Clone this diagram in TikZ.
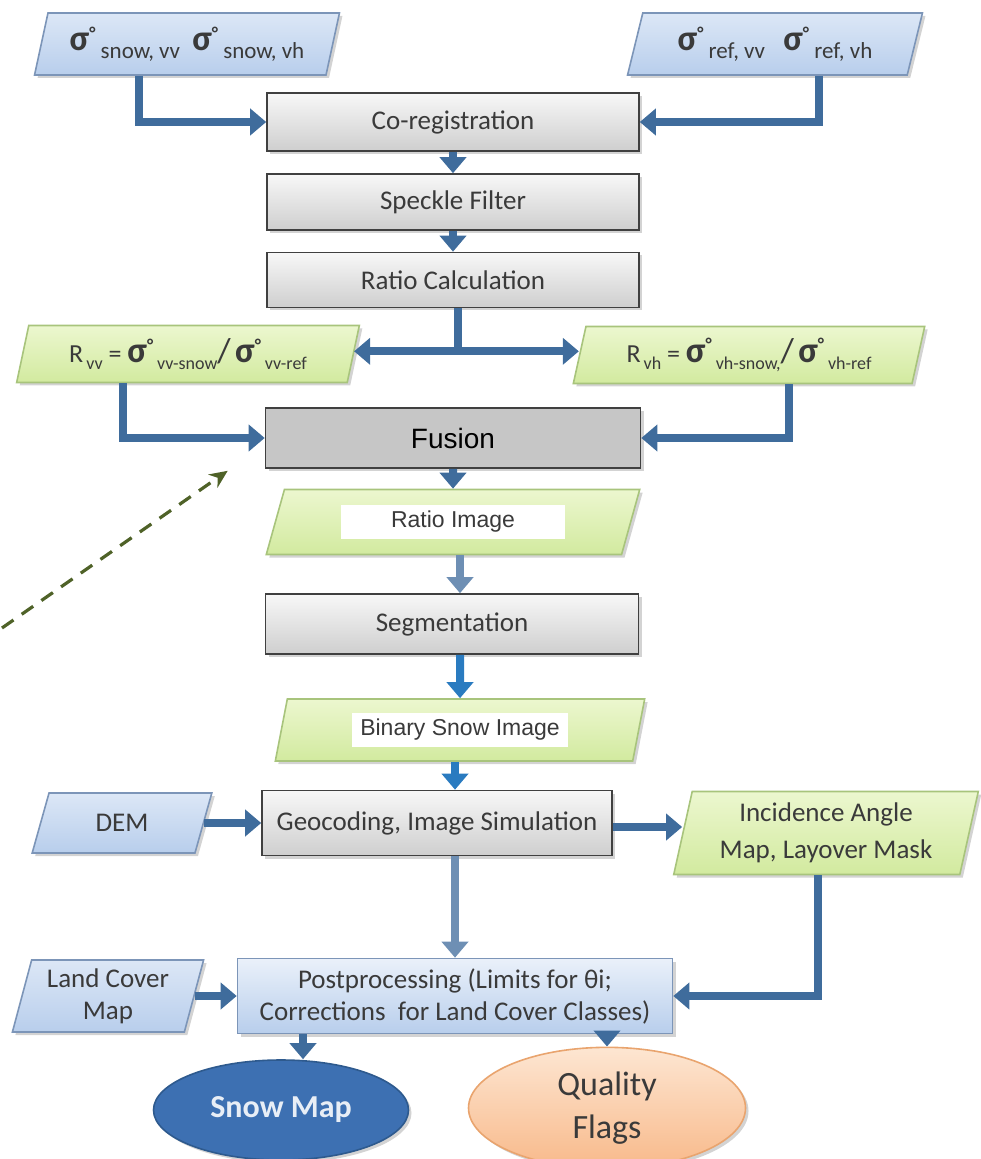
\documentclass[tikz,border=0pt]{standalone}
\usepackage{fontspec}
\setmainfont{Carlito}
\newfontfamily\arialfont{Liberation Sans}
\usetikzlibrary{positioning,shapes.geometric,arrows.meta,calc,shadows}

\definecolor{arrowblue}{HTML}{3F6C9C}
\definecolor{paleblue}{HTML}{6E8FB4}
\definecolor{brightblue}{HTML}{2A7BC0}
\definecolor{boxedge}{HTML}{404040}
\definecolor{textgray}{HTML}{3A3A3A}
\definecolor{bluefillA}{HTML}{DCE7F6}
\definecolor{bluefillB}{HTML}{B8CEEC}
\definecolor{blueedge}{HTML}{7C95B8}
\definecolor{greenfillA}{HTML}{ECF7CF}
\definecolor{greenfillB}{HTML}{D2EA9F}
\definecolor{greenedge}{HTML}{A8C47C}
\definecolor{snowblue}{HTML}{3D70B2}
\definecolor{snowedge}{HTML}{2E5A8E}
\definecolor{peachA}{HTML}{FDE6D2}
\definecolor{peachB}{HTML}{F8B98A}
\definecolor{peachedge}{HTML}{E9A46E}
\definecolor{olive}{HTML}{4F6228}

% sigma nought with subscript
\newcommand{\sig}[2][\small]{{\fontsize{18}{20}\selectfont\bfseries σ}\raisebox{.9ex}{\small\bfseries°}\raisebox{-.6ex}{#1 #2}}

\tikzset{
  shade/.style={drop shadow={opacity=.35, shadow xshift=1.5pt, shadow yshift=-1.5pt}},
  process/.style={rectangle, draw=boxedge, thick, top color=gray!6, bottom color=gray!38,
    minimum width=186pt, minimum height=29pt, text=textgray,
    font=\fontsize{13.5}{15}\selectfont, shade},
  datablue/.style={trapezium, trapezium left angle=76, trapezium right angle=104,
    trapezium stretches=true, draw=blueedge, thick, top color=bluefillA, bottom color=bluefillB,
    text=textgray, align=center, font=\fontsize{13.5}{16}\selectfont, shade},
  datagreen/.style={trapezium, trapezium left angle=78, trapezium right angle=102,
    trapezium stretches=true, draw=greenedge, thick, top color=greenfillA, bottom color=greenfillB,
    text=textgray, align=center, font=\fontsize{13}{18.5}\selectfont, shade},
  patch/.style 2 args={path picture={\fill[white]
    ([xshift=-#1,yshift=-#2]path picture bounding box.center) rectangle
    ([xshift=#1,yshift=#2]path picture bounding box.center);}},
  flow/.style={-{Triangle[length=8pt,width=13pt]}, line width=4pt, draw=arrowblue},
  paleflow/.style={flow, draw=paleblue},
  brightflow/.style={flow, draw=brightblue},
  hint/.style={-{Stealth[length=9pt,width=8pt]}, line width=1.6pt, draw=olive,
    dash pattern=on 7pt off 5pt}
}

\begin{document}
\begin{tikzpicture}[x=0.5pt,y=-0.5pt]
  \useasboundingbox (0,0) rectangle (980,1159);

  % inputs
  \node[datablue, minimum width=152.5pt, minimum height=31pt] (in1) at (187,44)
    {\sig[\fontsize{11.5}{13}\selectfont]{snow, vv}\ \ \sig[\fontsize{11.5}{13}\selectfont]{snow, vh}};
  \node[datablue, minimum width=147.5pt, minimum height=31pt] (in2) at (775,44)
    {\sig[\fontsize{11.5}{13}\selectfont]{ref, vv}\ \ \ \sig[\fontsize{11.5}{13}\selectfont]{ref, vh}};

  % preprocessing chain
  \node[process] (coreg) at (453,122) {Co-registration};
  \node[process, minimum height=28pt] (speckle) at (453,202) {Speckle Filter};
  \node[process, minimum height=27.5pt] (ratio) at (453,280) {Ratio Calculation};

  % ratios
  \node[datagreen, font=\fontsize{13}{15}\selectfont, minimum width=171.5pt, minimum height=28.5pt]
    (rvv) at (188,354) {R\raisebox{-.6ex}{\small\,vv} = \sig{vv-snow}{\LARGE/}\,\sig{vv-ref}};
  \node[datagreen, font=\fontsize{13}{15}\selectfont, minimum width=176pt, minimum height=28.5pt]
    (rvh) at (749,355) {R\raisebox{-.6ex}{\small\,vh} = \sig{vh-snow,}{\LARGE/}\,\sig{vh-ref}};

  \node[process, fill=gray!45, top color=gray!45, bottom color=gray!45, minimum width=187.5pt,
    minimum height=30pt, text=black, font=\arialfont\fontsize{14}{16}\selectfont] (fusion) at (453,438) {Fusion};
  \node[datagreen, patch={56pt}{8.5pt}, minimum width=187.5pt, minimum height=32.5pt,
    font=\arialfont\fontsize{11.5}{14}\selectfont] (rimg) at (453,522) {Ratio Image};
  \node[process, minimum width=186.5pt, minimum height=30pt] (seg) at (452,624) {Segmentation};
  \node[datagreen, patch={54pt}{8.5pt}, minimum width=185pt, minimum height=31pt,
    font=\arialfont\fontsize{11.5}{14}\selectfont] (bimg) at (460,730) {Binary Snow Image};

  % geocoding
  \node[process, minimum width=175pt, minimum height=32.5pt] (geo) at (437,823) {Geocoding, Image Simulation};
  \node[datablue, minimum width=90pt, minimum height=30pt] (dem) at (122,823) {DEM};
  \node[datagreen, font=\fontsize{13.5}{18.5}\selectfont, minimum width=152.5pt, minimum height=41.5pt]
    (inc) at (826,833) {Incidence Angle\\Map, Layover Mask};

  % postprocessing
  \node[process, top color=bluefillA!60, bottom color=bluefillB, draw=blueedge,
    minimum width=217.5pt, minimum height=37.5pt, align=center,
    font=\fontsize{13.5}{16}\selectfont] (post) at (455,996)
    {Postprocessing (Limits for θi;\\Corrections\ \ for Land Cover Classes)};
  \node[datablue, minimum width=96.5pt, minimum height=36pt] (land) at (108,996) {Land Cover\\Map};

  % outputs
  \node[ellipse, draw=snowedge, thick, fill=snowblue, minimum width=127.5pt, minimum height=50pt,
    text=white!88!snowblue, font=\bfseries\fontsize{16}{18}\selectfont, shade] (snow) at (281,1110) {Snow Map};
  \node[ellipse, draw=peachedge, thick, top color=peachA, bottom color=peachB, minimum width=138.5pt,
    minimum height=48.5pt, align=center, text=textgray, font=\fontsize{17}{21.5}\selectfont, shade]
    (qual) at (607,1108) {Quality\\Flags};

  % connectors
  \draw[flow] ($(in1.south)+(-48,0)$) |- (coreg.west);
  \draw[flow] ($(in2.south)+(44,0)$) |- (coreg.east);
  \draw[flow] (coreg.south) -- (speckle.north);
  \draw[flow] (speckle.south) -- (ratio.north);
  \coordinate (split) at ($(ratio.south)+(5,43)$);
  \draw[line width=4pt, draw=arrowblue] (ratio.south -| split) -- (split);
  \draw[flow] (split) -- (split -| rvv.east);
  \draw[flow] (split) -- (split -| rvh.west);
  \draw[flow] ($(rvv.south)+(-65,0)$) |- (fusion.west);
  \draw[flow] ($(rvh.south)+(40,0)$) |- (fusion.east);
  \draw[flow] (fusion.south) -- (rimg.north);
  \draw[paleflow] (rimg.south -| bimg) -- (seg.north -| bimg);
  \draw[brightflow] (seg.south -| bimg) -- (bimg.north);
  \draw[brightflow] (bimg.south -| post) -- (geo.north -| post);
  \draw[flow] (dem.east) -- (dem.east -| geo.west);
  \draw[flow] ($(geo.east)+(0,4)$) coordinate (geoout) -- (geoout -| inc.west);
  \draw[paleflow] (geo.south -| post) -- (post.north);
  \draw[flow] ($(inc.south)+(-8,0)$) |- (post.east);
  \draw[flow] (land.east) -- (land.east -| post.west);
  \coordinate (snowdrop) at ($(post.south)+(-152,0)$);
  \draw[flow] (snowdrop) -- (snowdrop |- snow.north);
  \draw[flow] (qual.north |- post.south) -- (qual.north);

  % dashed pointer
  \coordinate (hintstart) at (2,628);
  \draw[hint] (hintstart) -- ($(fusion.south west)+(-37,2)$);
\end{tikzpicture}
\end{document}
